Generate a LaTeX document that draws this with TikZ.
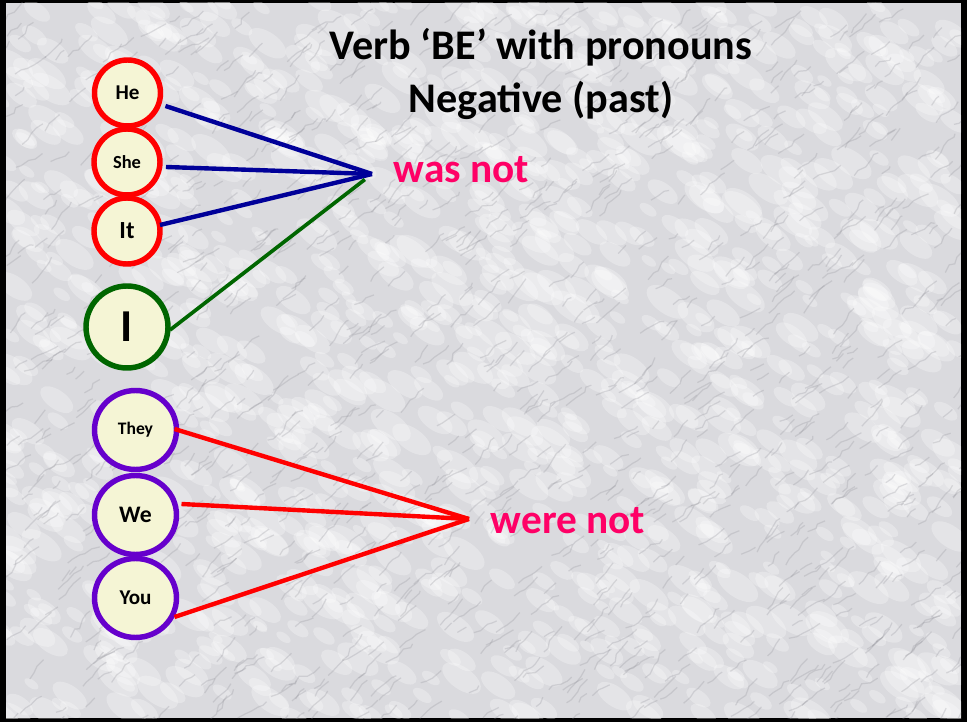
\documentclass[tikz,border=0pt]{standalone}
\usepackage{fontspec}
\setmainfont{Carlito}
\usetikzlibrary{calc,shapes.geometric,decorations.pathmorphing}
\definecolor{marble}{RGB}{218,218,222}
\definecolor{vein}{RGB}{140,140,148}
\definecolor{cream}{RGB}{245,245,213}
\definecolor{navyline}{RGB}{0,0,153}
\definecolor{darkgreen}{RGB}{0,102,0}
\definecolor{violet}{RGB}{102,0,204}
\definecolor{hotpink}{RGB}{255,0,102}

\begin{document}
\begin{tikzpicture}[x=0.02cm,y=-0.02cm,outer sep=0pt]
\tikzstyle{pron}=[circle, draw=red, fill=cream, line width=3.1pt, inner sep=0pt,
    minimum size=1.32cm, font=\bfseries]
\tikzstyle{plural}=[pron, ellipse, draw=violet, minimum width=1.64cm, minimum height=1.58cm]
\tikzstyle{verb}=[anchor=west, text=hotpink, font=\bfseries\fontsize{23.5}{28}\selectfont]
\tikzstyle{link}=[line width=2.5pt]
    % frame and marble background
    \fill[black] (0,0) rectangle (967,722);
    \fill[marble] (6,3) rectangle (961,718);
    \begin{scope}
    \clip (6,3) rectangle (961,718);
    \pgfmathsetseed{11}
    \foreach \k in {1,...,1400}{
        \pgfmathsetmacro{\vx}{960*rnd}
        \pgfmathsetmacro{\vy}{720*rnd}
        \pgfmathsetmacro{\vr}{4+8*rnd}
        \fill[white, opacity=0.28, rotate around={-35:(\vx,\vy)}] (\vx,\vy) ellipse ({2*\vr} and \vr);
    }
    \foreach \k in {1,...,1100}{
        \pgfmathsetmacro{\vx}{960*rnd}
        \pgfmathsetmacro{\vy}{20+720*rnd}
        \pgfmathsetmacro{\vl}{10+26*rnd}
        \pgfmathsetmacro{\va}{25+30*rnd}
        \draw[vein, line width=0.7pt, opacity=0.25,
            decorate, decoration={random steps, segment length=4, amplitude=1.2}]
            (\vx,\vy) -- ++(-\va:\vl);
    }
    \end{scope}
    \node (title) [align=center, font=\bfseries\fontsize{24}{30.6}\selectfont] at (541,74)
        {Verb ‘BE’ with pronouns\\Negative (past)};
    % singular
    \node (he) [pron] at (127.5,93) {\fontsize{12}{14}\selectfont He};
    \node (she) [pron] at (127,162) {\fontsize{10.5}{12}\selectfont She};
    \node (it) [pron] at (127,231) {\fontsize{14}{16}\selectfont It};
    \node (i) [pron, draw=darkgreen, minimum size=1.64cm] at (127,327) {\fontsize{26}{30}\selectfont I};
    \coordinate (was) at (372,174);
    \node (wasnot) [verb] at (388,170) {was not};
    \draw[navyline, link] ($(he.east)+(5,13)$) -- (was);
    \draw[navyline, link] ($(she.east)+(6,5)$) -- (was);
    \draw[navyline, link] ($(it.east)+(0,-6)$) -- (was);
    \draw[darkgreen, line width=2.1pt, shorten >=0.18cm] ($(i.east)+(2,3)$) -- (was);
    % plural
    \node (they) [plural] at (135.5,430) {\fontsize{10}{12}\selectfont They};
    \node (we) [plural] at (135.5,515) {\fontsize{13.5}{16}\selectfont We};
    \node (you) [plural] at (135.5,598) {\fontsize{12}{14}\selectfont You};
    \coordinate (were) at (469,519);
    \node (werenot) [verb] at (485,521) {were not};
    \draw[red, link] ($(they.east)+(-2,-1)$) -- (were);
    \draw[red, link] ($(we.east)+(5,-11)$) -- (were);
    \draw[red, link] ($(you.east)+(-2,19)$) -- (were);
\end{tikzpicture}
\end{document}
